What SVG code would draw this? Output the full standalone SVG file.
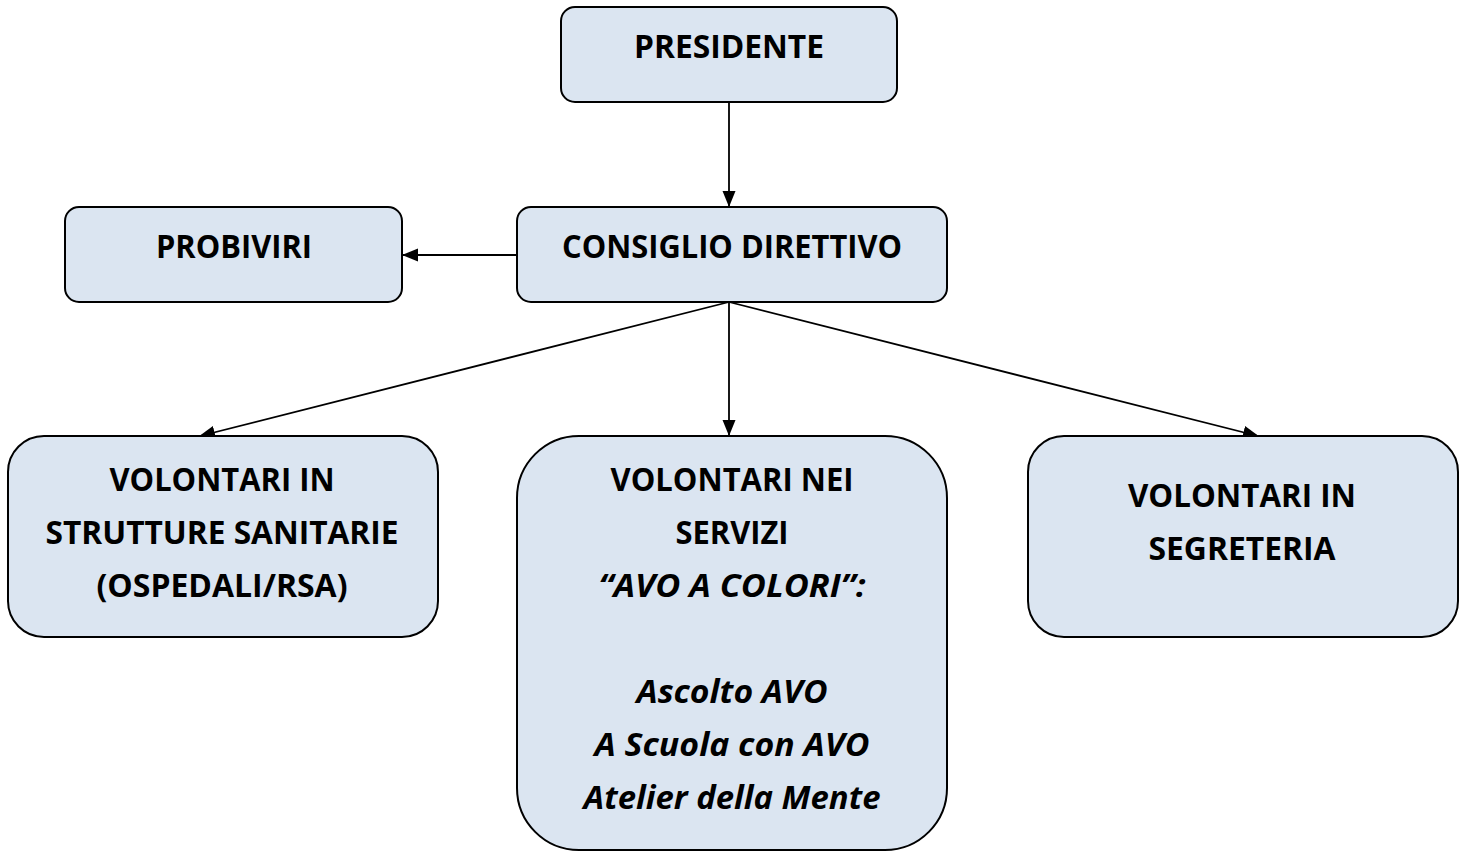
<svg xmlns="http://www.w3.org/2000/svg" width="1469" height="854" viewBox="0 0 1469 854">
<style>
.box{fill:#dbe5f1;stroke:#000;stroke-width:2}
.t{font-family:"Open Sans","Liberation Sans",sans-serif;font-weight:bold;font-size:33px;fill:#000;text-anchor:middle}
.i{font-style:italic}
.c{stroke:#000;stroke-width:1.8;fill:none;marker-end:url(#ah)}
</style>
<defs>
<marker id="ah" markerWidth="16" markerHeight="14" refX="15" refY="7" orient="auto" markerUnits="userSpaceOnUse">
<path d="M0,0.5 L16,7 L0,13.5 Z" fill="#000"/>
</marker>
</defs>
<rect width="1469" height="854" fill="#fff"/>
<g id="connectors">
<line class="c" x1="729" y1="102" x2="729" y2="206"/>
<line class="c" x1="517" y1="255" x2="403" y2="255"/>
<line class="c" x1="729" y1="302" x2="200" y2="436"/>
<line class="c" x1="729" y1="302" x2="729" y2="435"/>
<line class="c" x1="729" y1="302" x2="1258" y2="436"/>
</g>
<g id="presidente">
<rect class="box" x="561" y="7" width="336" height="95" rx="14"/>
<text class="t" x="729" y="58" textLength="190" lengthAdjust="spacingAndGlyphs">PRESIDENTE</text>
</g>
<g id="probiviri">
<rect class="box" x="65" y="207" width="337" height="95" rx="14"/>
<text class="t" x="234" y="258" textLength="156" lengthAdjust="spacingAndGlyphs">PROBIVIRI</text>
</g>
<g id="consiglio">
<rect class="box" x="517" y="207" width="430" height="95" rx="14"/>
<text class="t" x="732" y="258" textLength="340" lengthAdjust="spacingAndGlyphs">CONSIGLIO DIRETTIVO</text>
</g>
<g id="strutture">
<rect class="box" x="8" y="436" width="430" height="201" rx="36"/>
<text class="t" x="222" y="491" textLength="225" lengthAdjust="spacingAndGlyphs">VOLONTARI IN</text>
<text class="t" x="222" y="544" textLength="353" lengthAdjust="spacingAndGlyphs">STRUTTURE SANITARIE</text>
<text class="t" x="222" y="597" textLength="251" lengthAdjust="spacingAndGlyphs">(OSPEDALI/RSA)</text>
</g>
<g id="servizi">
<rect class="box" x="517" y="436" width="430" height="414" rx="62"/>
<text class="t" x="732" y="491" textLength="243" lengthAdjust="spacingAndGlyphs">VOLONTARI NEI</text>
<text class="t" x="732" y="544" textLength="113" lengthAdjust="spacingAndGlyphs">SERVIZI</text>
<text class="t i" x="732" y="597" textLength="267" lengthAdjust="spacingAndGlyphs">“AVO A COLORI”:</text>
<text class="t i" x="732" y="703" textLength="191" lengthAdjust="spacingAndGlyphs">Ascolto AVO</text>
<text class="t i" x="732" y="756" textLength="275" lengthAdjust="spacingAndGlyphs">A Scuola con AVO</text>
<text class="t i" x="732" y="809" textLength="297" lengthAdjust="spacingAndGlyphs">Atelier della Mente</text>
</g>
<g id="segreteria">
<rect class="box" x="1028" y="436" width="430" height="201" rx="36"/>
<text class="t" x="1242" y="507" textLength="228" lengthAdjust="spacingAndGlyphs">VOLONTARI IN</text>
<text class="t" x="1242" y="560" textLength="187" lengthAdjust="spacingAndGlyphs">SEGRETERIA</text>
</g>
</svg>
